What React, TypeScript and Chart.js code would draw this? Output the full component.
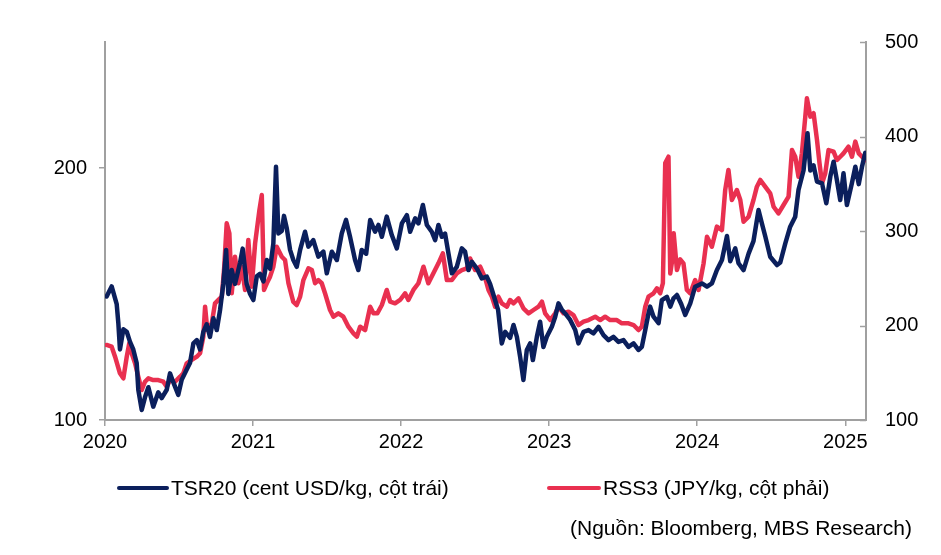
import React, { useEffect, useRef } from "react";
import { Chart, registerables } from "chart.js";

Chart.register(...registerables);

// ---- Data ----
const yearTicks = [2020, 2021, 2022, 2023, 2024, 2025];
const leftTicks = [100, 200];
const rightTicks = [100, 200, 300, 400, 500];

// TSR20 (cent USD/kg, left axis)
const tsr20Time = [
  2020.011, 2020.045, 2020.079, 2020.090, 2020.101, 2020.124, 2020.147, 2020.169, 2020.191, 2020.214,
  2020.225, 2020.248, 2020.270, 2020.293, 2020.326, 2020.360, 2020.383, 2020.417, 2020.439, 2020.461,
  2020.495, 2020.518, 2020.552, 2020.574, 2020.597, 2020.620, 2020.642, 2020.664, 2020.687, 2020.709,
  2020.732, 2020.755, 2020.777, 2020.799, 2020.818, 2020.833, 2020.856, 2020.878, 2020.912, 2020.930,
  2020.957, 2020.980,
  2021.002, 2021.025, 2021.047, 2021.070, 2021.093, 2021.115, 2021.137, 2021.155, 2021.171, 2021.194,
  2021.209, 2021.228, 2021.250, 2021.272, 2021.295, 2021.318, 2021.351, 2021.374, 2021.407, 2021.441,
  2021.475, 2021.498, 2021.532, 2021.566, 2021.599, 2021.628, 2021.655, 2021.689, 2021.711, 2021.734,
  2021.764, 2021.791, 2021.824, 2021.847, 2021.870, 2021.903, 2021.937, 2021.971,
  2022.005, 2022.039, 2022.061, 2022.095, 2022.117, 2022.147, 2022.174, 2022.207, 2022.230, 2022.252,
  2022.275, 2022.297, 2022.320, 2022.343, 2022.376, 2022.410, 2022.432, 2022.455, 2022.478, 2022.511,
  2022.545, 2022.579, 2022.601, 2022.622, 2022.655, 2022.680, 2022.703, 2022.736, 2022.759, 2022.782,
  2022.804, 2022.826, 2022.849, 2022.872, 2022.890, 2022.917, 2022.939, 2022.961, 2022.984,
  2023.018, 2023.041, 2023.063, 2023.086, 2023.108, 2023.142, 2023.176, 2023.198, 2023.232, 2023.266,
  2023.299, 2023.333, 2023.367, 2023.401, 2023.434, 2023.468, 2023.502, 2023.536, 2023.570, 2023.603,
  2023.626, 2023.649, 2023.671, 2023.682, 2023.705, 2023.739, 2023.761, 2023.795, 2023.818, 2023.840,
  2023.863, 2023.892, 2023.919, 2023.953, 2023.986,
  2024.032, 2024.066, 2024.099, 2024.133, 2024.167, 2024.201, 2024.223, 2024.257, 2024.279, 2024.313,
  2024.347, 2024.380, 2024.414, 2024.437, 2024.459, 2024.493, 2024.539, 2024.561, 2024.595, 2024.628,
  2024.662, 2024.684, 2024.718, 2024.745, 2024.764, 2024.786, 2024.809, 2024.843, 2024.872, 2024.899,
  2024.921, 2024.944, 2024.966, 2024.988,
  2025.011, 2025.045, 2025.068, 2025.091, 2025.113, 2025.135,
];
const tsr20Value = [
  149, 153, 146, 138.5, 128, 136, 135, 131, 128, 122.6,
  112, 104, 109, 113, 105.3, 111, 108.7, 112, 118.5, 115,
  110, 116, 120, 122.6, 130.4, 131.7, 128, 135, 138, 133,
  140.4, 135.7, 143.6, 154, 167.5, 150, 159.5, 154, 162.3, 168,
  154, 150,
  147.6, 157, 158, 155, 163.5, 160, 170, 200.5, 174, 175,
  181, 176, 167.5, 163.5, 160.8, 167.5, 174.7, 168.8, 171.4, 164.8,
  166.8, 158.2, 166.8, 163.5, 174, 179.4, 172.7, 163.5, 159.5, 167.5,
  166, 179.4, 174.7, 177.4, 172.7, 180.7, 173.4, 168.1,
  178, 181.3, 174.7, 180, 178, 185.3, 177.4, 174.7, 171.4, 177.4,
  172.7, 174, 166, 158.2, 160.8, 168.1, 166.8, 159.5, 162.8, 160.2,
  156.2, 156.9, 154, 150, 143.7, 130.4, 135, 132.6, 137.7, 133,
  125, 115.9, 127.8, 130.4, 123.8, 133, 139, 129, 133,
  137, 141, 146.3, 143.7, 142.3, 139.7, 135.7, 130.4, 135, 135.7,
  134.4, 137, 133.7, 131.7, 133, 131, 131.7, 129, 130.4, 127.8,
  129, 135.7, 142.3, 145, 141, 138.4, 147.6, 148.9, 145, 148.3,
  149.6, 146, 141.7, 146.3, 152.9,
  154.2, 152.9, 154.2, 159.5, 163.5, 173, 163, 168.1, 162.2, 159.5,
  166, 171, 183.3, 178, 173, 164.8, 161.5, 162.5, 170.1, 176.7,
  180.7, 191.3, 199, 213.8, 199, 201, 194.6, 193.9, 186, 196.6,
  202.5, 195, 187.3, 197.9,
  185.3, 194, 200.5, 193.6, 200.5, 206,
];

// RSS3 (JPY/kg, right axis)
const rss3Time = [
  2020.011, 2020.045, 2020.068, 2020.101, 2020.124, 2020.147, 2020.164, 2020.180, 2020.203, 2020.225,
  2020.248, 2020.270, 2020.293, 2020.326, 2020.360, 2020.394, 2020.417, 2020.439, 2020.473, 2020.507,
  2020.529, 2020.552, 2020.586, 2020.620, 2020.642, 2020.664, 2020.676, 2020.691, 2020.721, 2020.743,
  2020.766, 2020.789, 2020.804, 2020.822, 2020.840, 2020.856, 2020.878, 2020.901, 2020.924, 2020.946,
  2020.968, 2020.991,
  2021.014, 2021.043, 2021.059, 2021.074, 2021.093, 2021.115, 2021.137, 2021.160, 2021.194, 2021.216,
  2021.239, 2021.272, 2021.295, 2021.318, 2021.340, 2021.374, 2021.397, 2021.419, 2021.441, 2021.464,
  2021.486, 2021.520, 2021.543, 2021.576, 2021.610, 2021.644, 2021.678, 2021.701, 2021.723, 2021.757,
  2021.791, 2021.813, 2021.840, 2021.870, 2021.903, 2021.926, 2021.959, 2021.993,
  2022.027, 2022.049, 2022.083, 2022.117, 2022.151, 2022.184, 2022.218, 2022.252, 2022.282, 2022.309,
  2022.343, 2022.376, 2022.410, 2022.444, 2022.466, 2022.500, 2022.534, 2022.568, 2022.590, 2022.613,
  2022.635, 2022.657, 2022.680, 2022.714, 2022.736, 2022.759, 2022.793, 2022.826, 2022.861, 2022.894,
  2022.928, 2022.951, 2022.973,
  2023.007, 2023.041, 2023.063, 2023.097, 2023.130, 2023.164, 2023.198, 2023.232, 2023.266, 2023.311,
  2023.345, 2023.378, 2023.412, 2023.457, 2023.491, 2023.536, 2023.570, 2023.603, 2023.626, 2023.649,
  2023.671, 2023.705, 2023.728, 2023.750, 2023.768, 2023.784, 2023.806, 2023.818, 2023.831, 2023.841,
  2023.863, 2023.885, 2023.907, 2023.930, 2023.953, 2023.986,
  2024.009, 2024.043, 2024.066, 2024.099, 2024.133, 2024.167, 2024.189, 2024.211, 2024.234, 2024.268,
  2024.291, 2024.313, 2024.347, 2024.380, 2024.403, 2024.426, 2024.459, 2024.493, 2024.516, 2024.549,
  2024.583, 2024.617, 2024.640, 2024.662, 2024.684, 2024.707, 2024.730, 2024.741, 2024.764, 2024.786,
  2024.809, 2024.826, 2024.843, 2024.865, 2024.887, 2024.921, 2024.944, 2024.966, 2024.988,
  2025.022, 2025.045, 2025.068, 2025.091, 2025.113, 2025.135,
];
const rss3Value = [
  179.4, 177.6, 167, 149.4, 144.1, 167, 181.2, 170.6, 160, 145.8,
  131.7, 140.5, 144.1, 142.3, 142.3, 140.5, 135.2, 142.3, 140.5, 145.8,
  149.4, 160, 163.5, 167, 170.6, 188.1, 219.9, 195.2, 202.3, 223.5,
  227, 230.5, 258.7, 308.1, 297.6, 234.1, 272.8, 244.7, 262.2, 237.6,
  290.5, 241.1,
  287, 322.2, 338.1, 237.6, 244.7, 251.7, 262.2, 283.4, 272.8, 269.3,
  244.7, 225, 221.7, 230.5, 248.1, 260.5, 258.7, 244.7, 248.1, 244.7,
  234.1, 216.4, 209.3, 212.9, 209.3, 198.7, 191.7, 188.1, 198.7, 195.2,
  219.9, 212.9, 212.9, 221.7, 237.6, 225.2, 223.5, 227,
  234.1, 227, 237.6, 244.7, 262.2, 244.7, 255.2, 265.8, 276.4, 248.1,
  248.1, 255.2, 258.7, 260.5, 270.9, 258.7, 262.2, 250, 237.6, 230.5,
  219.9, 230.5, 223.5, 219.9, 227, 223.5, 228.7, 218.2, 212.9, 216.4,
  219.9, 225.2, 212.9,
  205.8, 212.9, 219.9, 212.9, 214.6, 211.1, 200.5, 204, 205.8, 209.3,
  205.8, 209.3, 205.8, 205.8, 202.3, 202.3, 200.5, 195.2, 198.7, 219.9,
  230.5, 234.1, 239.4, 234.1, 244.7, 372, 378.6, 255, 269, 297.6,
  258.7, 270, 265.8, 237.6, 234.1, 248.1,
  237.6, 265.8, 294, 283.4, 304.6, 301, 343.4, 364.6, 332.8, 343.4,
  332.8, 309.8, 315.1, 332.8, 346.9, 354, 346.9, 339.9, 325.7, 318.7,
  327.5, 336.3, 385.7, 378.6, 357.5, 382.2, 421, 440.4, 421, 424.6,
  396.3, 371.6, 350.4, 361.1, 385.7, 383.9, 375.1, 378.6, 382.2,
  389.2, 378.6, 394.6, 382.2, 378.6, 375.1,
];

const NAVY = "#0b1f5c";
const RED = "#e93050";
const AXIS = "#a0a0a0";
const FONT = '"Liberation Sans", Arial, Helvetica, sans-serif';

const innerRightTicks = {
  id: "innerRightTicks",
  afterDatasetsDraw(chart: any) {
    const s = chart.scales.y1;
    const ctx = chart.ctx;
    ctx.save();
    ctx.strokeStyle = AXIS;
    ctx.lineWidth = 1.5;
    s.ticks.forEach((t: any) => {
      const y = Math.round(s.getPixelForValue(t.value)) + 0.5;
      ctx.beginPath();
      ctx.moveTo(s.left - 6, y);
      ctx.lineTo(s.left, y);
      ctx.stroke();
    });
    ctx.restore();
  },
};

export default function App() {
  const ref = useRef<HTMLCanvasElement | null>(null);

  useEffect(() => {
    if (!ref.current) return;
    const chart = new Chart(ref.current, {
      type: "line",
      data: {
        datasets: [
          {
            label: "TSR20 (cent USD/kg, cột trái)",
            data: tsr20Time.map((t, i) => ({ x: t, y: tsr20Value[i] })),
            borderColor: NAVY,
            backgroundColor: NAVY,
            borderWidth: 4.5,
            pointRadius: 0,
            tension: 0,
            borderJoinStyle: "round",
            borderCapStyle: "round",
            yAxisID: "y",
          },
          {
            label: "RSS3 (JPY/kg, cột phải)",
            data: rss3Time.map((t, i) => ({ x: t, y: rss3Value[i] })),
            borderColor: RED,
            backgroundColor: RED,
            borderWidth: 4.5,
            pointRadius: 0,
            tension: 0,
            borderJoinStyle: "round",
            borderCapStyle: "round",
            yAxisID: "y1",
          },
        ],
      },
      options: {
        animation: false,
        responsive: false,
        devicePixelRatio: 1,
        layout: { padding: { top: 42, left: 0, right: 0, bottom: 0 } },
        plugins: {
          legend: { display: false },
          tooltip: { enabled: false },
        },
        scales: {
          x: {
            type: "linear",
            min: 2020,
            max: 2025.14,
            afterBuildTicks: (s: any) => {
              s.ticks = yearTicks.map((v) => ({ value: v }));
            },
            afterFit: (s: any) => {
              s.height = 135;
            },
            ticks: {
              callback: (v: any) => String(v),
              color: "#000",
              font: { family: FONT, size: 20 },
              padding: 4,
              maxRotation: 0,
              autoSkip: false,
            },
            grid: {
              display: true,
              drawOnChartArea: false,
              drawTicks: true,
              tickLength: 6,
              color: AXIS,
              lineWidth: 1.5,
            },
            border: { display: true, color: AXIS, width: 2 },
          },
          y: {
            type: "linear",
            position: "left",
            min: 100,
            max: 250,
            afterBuildTicks: (s: any) => {
              s.ticks = leftTicks.map((v) => ({ value: v }));
            },
            afterFit: (s: any) => {
              s.width = 105;
            },
            ticks: {
              color: "#000",
              font: { family: FONT, size: 20 },
              padding: 12,
            },
            grid: {
              display: true,
              drawOnChartArea: false,
              drawTicks: true,
              tickLength: 6,
              color: AXIS,
              lineWidth: 1.5,
            },
            border: { display: true, color: AXIS, width: 2 },
          },
          y1: {
            type: "linear",
            position: "right",
            min: 100,
            max: 500,
            afterBuildTicks: (s: any) => {
              s.ticks = rightTicks.map((v) => ({ value: v }));
            },
            afterFit: (s: any) => {
              s.width = 75;
            },
            ticks: {
              color: "#000",
              font: { family: FONT, size: 20 },
              padding: 19,
            },
            grid: {
              display: true,
              drawOnChartArea: false,
              drawTicks: false,
              color: AXIS,
            },
            border: { display: true, color: AXIS, width: 2 },
          },
        },
      },
      plugins: [innerRightTicks],
    });
    return () => chart.destroy();
  }, []);

  const textStyle: React.CSSProperties = {
    position: "absolute",
    fontFamily: FONT,
    fontSize: 21,
    color: "#000",
    whiteSpace: "nowrap",
    lineHeight: "24px",
  };

  return (
    <div style={{ position: "fixed", left: 0, top: 0, width: 941, height: 555, background: "#fff" }}>
      <canvas ref={ref} width={941} height={555} style={{ position: "absolute", left: 0, top: 0, width: 941, height: 555 }} />
      <div style={{ position: "absolute", left: 117, top: 486, width: 52, height: 4, borderRadius: 2, background: NAVY }} />
      <div style={{ ...textStyle, left: 171, top: 476 }}>TSR20 (cent USD/kg, cột trái)</div>
      <div style={{ position: "absolute", left: 547, top: 486, width: 54, height: 4, borderRadius: 2, background: RED }} />
      <div style={{ ...textStyle, left: 603, top: 476 }}>RSS3 (JPY/kg, cột phải)</div>
      <div style={{ ...textStyle, right: 941 - 912, top: 516 }}>(Nguồn: Bloomberg, MBS Research)</div>
    </div>
  );
}
